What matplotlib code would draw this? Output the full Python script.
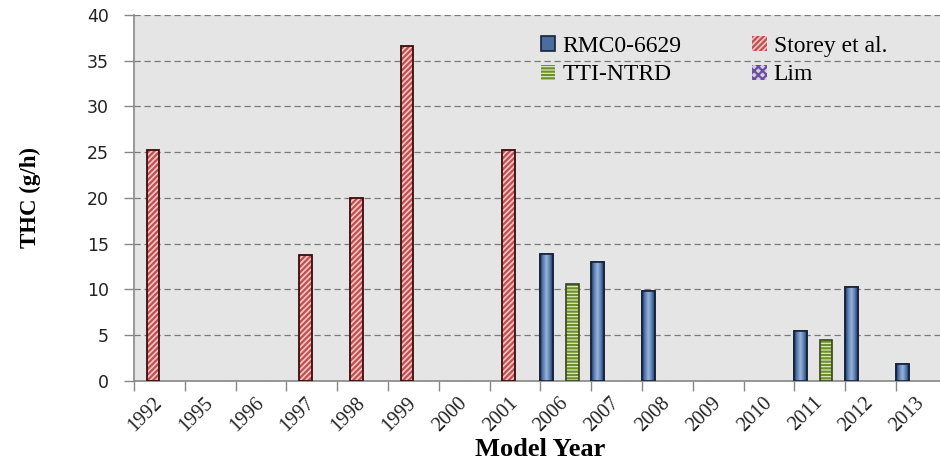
import matplotlib
matplotlib.use('Agg')
import matplotlib.pyplot as plt
import numpy as np
from matplotlib.colors import LinearSegmentedColormap

nan = np.nan
years = ['1992', '1995', '1996', '1997', '1998', '1999', '2000', '2001',
         '2006', '2007', '2008', '2009', '2010', '2011', '2012', '2013']
rmc = [nan, nan, nan, nan, nan, nan, nan, nan,
       13.9, 13.0, 9.85, nan, nan, 5.4, 10.2, 1.8]
storey = [25.2, nan, nan, 13.7, 20.0, 36.6, nan, 25.2,
          nan, nan, nan, nan, nan, nan, nan, nan]
tti = [nan, nan, nan, nan, nan, nan, nan, nan,
       10.6, nan, nan, nan, nan, 4.45, nan, nan]
lim = [nan] * 16

plt.rcParams['hatch.linewidth'] = 1.6

fig = plt.figure(figsize=(9.4, 4.66), dpi=100)
ax = fig.add_axes([134 / 940, 1 - 380.7 / 466, 812.8 / 940, (380.7 - 15) / 466])
ax.set_facecolor('#e5e5e5')

x = np.arange(len(years))
w = 0.25

b_rmc = ax.bar(x - 1.5 * w, rmc, w, color='#4b6c9e', edgecolor='#16233a', lw=1.2,
               label='RMC0-6629', zorder=3)
b_st = ax.bar(x - 0.5 * w, storey, w, color='#f2c4c4', edgecolor='#c05050', lw=0,
              hatch='//////', label='Storey et al.', zorder=3)
b_tti = ax.bar(x + 0.5 * w, tti, w, color='#e4f0c4', edgecolor='#6f8f2c', lw=0,
               hatch='-----', label='TTI-NTRD', zorder=3)
b_lim = ax.bar(x + 1.5 * w, lim, w, color='#d6cce8', edgecolor='#6b4f9a', lw=0,
               hatch='xxxx', label='Lim', zorder=3)

# dark outlines on the hatched bars
ax.bar(x - 0.5 * w, storey, w, fill=False, edgecolor='#3a0c0c', lw=1.3, zorder=4)
ax.bar(x + 0.5 * w, tti, w, fill=False, edgecolor='#34461a', lw=1.2, zorder=4)

# cylinder-like shading on the blue bars
cmap = LinearSegmentedColormap.from_list('cyl', ['#1f3559', '#5d82b8', '#9ab4d8', '#5d82b8', '#1f3559'])
grad = np.linspace(0, 1, 64).reshape(1, -1)
for p in b_rmc:
    if np.isnan(p.get_height()):
        continue
    x0, y0 = p.get_x(), p.get_y()
    im = ax.imshow(grad, cmap=cmap, aspect='auto', zorder=3.5,
                   extent=(x0, x0 + p.get_width(), y0, y0 + p.get_height()))
    im.set_clip_path(p)
    ax.add_patch(plt.Rectangle((x0, y0), p.get_width(), p.get_height(), fill=False,
                               ec='#16233a', lw=1.2, zorder=4))

ax.set_xlim(-0.5, len(years) - 0.5)
ax.set_ylim(0, 40)
ax.set_yticks(np.arange(0, 41, 5))
ax.grid(axis='y', linestyle=(0, (5, 3)), color='#7a7a7a', lw=0.9, zorder=1)
ax.set_axisbelow(True)

ax.set_xticks(x)
ax.set_xticklabels(years, rotation=45, ha='right', va='center', rotation_mode='anchor',
                   family='Liberation Serif', fontsize=14.5, color='#222222')
ax.set_xticks(np.arange(-0.5, len(years), 1), minor=True)
ax.tick_params(axis='x', which='major', length=0, pad=14)
ax.tick_params(axis='x', which='minor', length=7, color='#888888', width=1)
ax.tick_params(axis='y', length=7, color='#888888', width=1, labelsize=12.5,
               labelcolor='#222222', pad=11)

for s in ['top', 'right']:
    ax.spines[s].set_visible(False)
for s in ['left', 'bottom']:
    ax.spines[s].set_color('#888888')
    ax.spines[s].set_linewidth(1.2)

ax.set_ylabel('THC (g/h)', family='Liberation Serif', fontweight='bold',
              fontsize=16.5, labelpad=33)
ax.set_xlabel('Model Year', family='Liberation Serif', fontweight='bold',
              fontsize=19, labelpad=2)

ax.legend(handles=[b_rmc, b_tti, b_st, b_lim], ncol=2, frameon=False,
          loc='upper left', bbox_to_anchor=(0.475, 1.0), handlelength=0.6,
          handleheight=0.6, handletextpad=0.3, columnspacing=3.0,
          labelspacing=0.3, prop={'family': 'Liberation Serif', 'size': 17})

fig.savefig('out.png', dpi=100)
